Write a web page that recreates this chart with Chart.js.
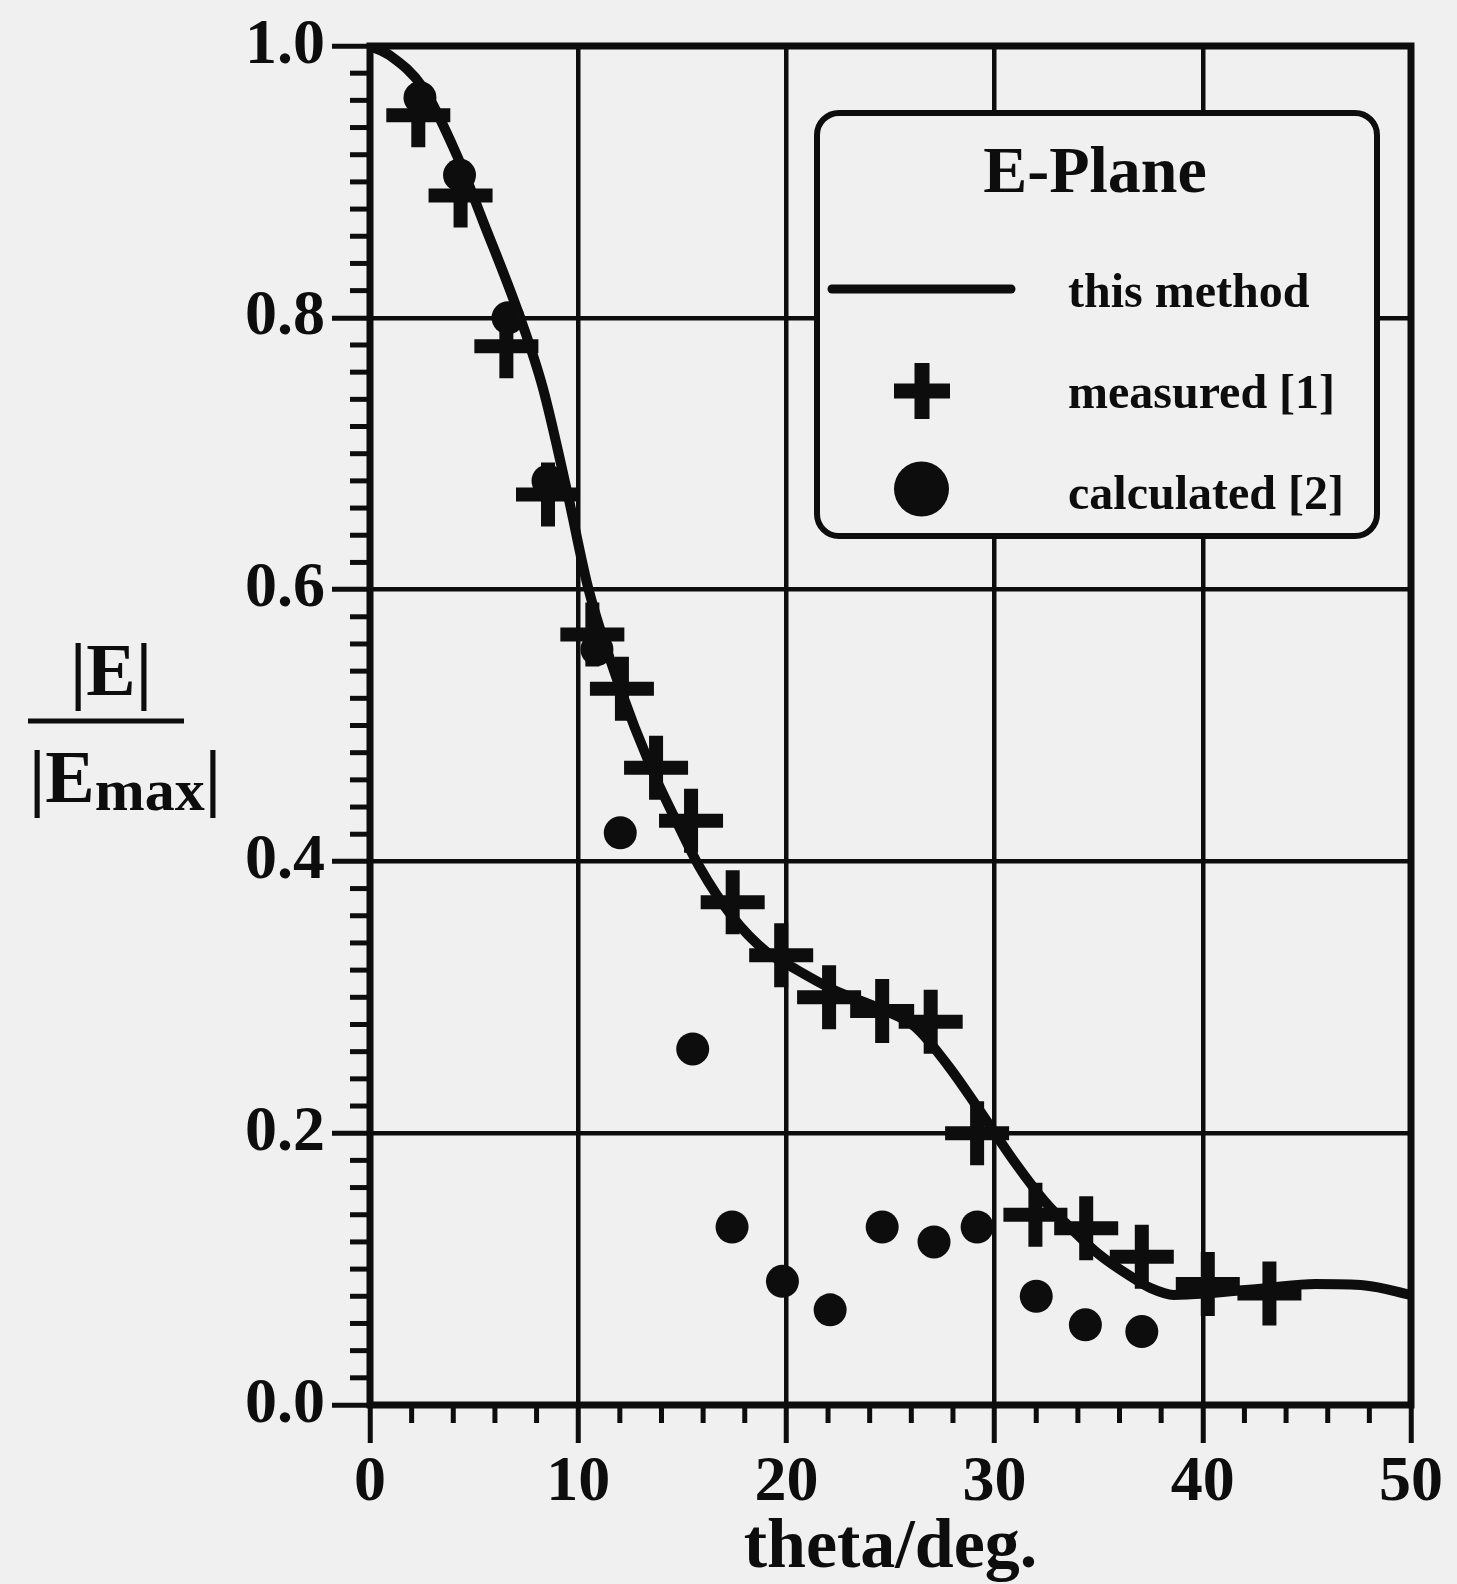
<!DOCTYPE html>
<html>
<head>
<meta charset="utf-8">
<script src="https://cdn.jsdelivr.net/npm/chart.js@4.4.1/dist/chart.umd.min.js"></script>
<style>
  html, body { margin: 0; padding: 0; background: #f0f0f0; }
  #wrap { width: 1457px; height: 1584px; position: relative; }
</style>
</head>
<body>
<div id="wrap"><canvas id="c"></canvas></div>
<script>
// ---- data ----
const curveTheta = [0, 0.96, 2.56, 4.16, 5.43, 7.19, 8.31, 9.5, 10.5, 11.98, 13.5, 14.7, 15.82, 17.42, 19.0, 20.3, 22.2, 24.6, 26.2, 27.8, 29.4, 31.0, 32.4, 33.4, 35.0, 36.6, 37.5, 38.6, 40.1, 43.0, 45.4, 47.8, 50];
const curveE     = [1.000, 0.993, 0.969, 0.920, 0.871, 0.801, 0.748, 0.670, 0.600, 0.529, 0.469, 0.430, 0.396, 0.359, 0.334, 0.322, 0.306, 0.291, 0.278, 0.249, 0.214, 0.178, 0.150, 0.134, 0.111, 0.094, 0.086, 0.081, 0.082, 0.086, 0.089, 0.088, 0.081];

const measuredTheta = [2.32, 4.35, 6.55, 8.55, 10.68, 12.1, 13.74, 15.42, 17.42, 19.75, 22.05, 24.6, 26.93, 29.16, 31.96, 34.4, 37.07, 40.24, 43.2];
const measuredE     = [0.949, 0.890, 0.779, 0.670, 0.567, 0.527, 0.469, 0.430, 0.370, 0.331, 0.300, 0.290, 0.282, 0.200, 0.140, 0.130, 0.109, 0.089, 0.082];

const calcTheta = [2.4, 4.3, 6.63, 8.55, 10.9, 12.02, 15.5, 17.39, 19.81, 22.1, 24.6, 27.09, 29.16, 32.0, 34.36, 37.07];
const calcE     = [0.962, 0.905, 0.800, 0.680, 0.556, 0.421, 0.262, 0.131, 0.091, 0.070, 0.131, 0.120, 0.131, 0.080, 0.059, 0.054];

const xTickLabels = ['0', '10', '20', '30', '40', '50'];
const yTickLabels = ['0.0', '0.2', '0.4', '0.6', '0.8', '1.0'];
const seriesNames = ['this method', 'measured [1]', 'calculated [2]'];
const legendTitle = 'E-Plane';
const xTitle = 'theta/deg.';

// ---- styling ----
const INK = '#0d0d0d';
const SERIF = "'Liberation Serif', 'Times New Roman', serif";

const isMajorX = v => Math.abs(Math.round(v) % 10) === 0 && Math.abs(v - Math.round(v)) < 1e-6;
const isMajorY = v => Math.round(v * 50) % 10 === 0;

const pts = (xs, ys) => xs.map((x, i) => ({ x: x, y: ys[i] }));

const decorPlugin = {
  id: 'decor',
  afterDraw(chart) {
    const ctx = chart.ctx;
    const a = chart.chartArea;
    const xs = chart.scales.x, ys = chart.scales.y;
    ctx.save();
    ctx.strokeStyle = INK;
    ctx.fillStyle = INK;
    ctx.lineCap = 'butt';

    // minor ticks
    ctx.lineWidth = 5;
    ys.ticks.forEach(t => {
      if (isMajorY(t.value)) return;
      const py = ys.getPixelForValue(t.value);
      ctx.beginPath(); ctx.moveTo(a.left - 20, py); ctx.lineTo(a.left, py); ctx.stroke();
    });
    xs.ticks.forEach(t => {
      if (isMajorX(t.value)) return;
      const px = xs.getPixelForValue(t.value);
      ctx.beginPath(); ctx.moveTo(px, a.bottom); ctx.lineTo(px, a.bottom + 18); ctx.stroke();
    });

    // frame
    ctx.lineWidth = 7;
    ctx.strokeRect(a.left, a.top, a.right - a.left, a.bottom - a.top);

    // legend box
    const bx = 817, by = 113, bw = 560, bh = 423, r = 22;
    ctx.beginPath();
    ctx.moveTo(bx + r, by);
    ctx.lineTo(bx + bw - r, by);
    ctx.arcTo(bx + bw, by, bx + bw, by + r, r);
    ctx.lineTo(bx + bw, by + bh - r);
    ctx.arcTo(bx + bw, by + bh, bx + bw - r, by + bh, r);
    ctx.lineTo(bx + r, by + bh);
    ctx.arcTo(bx, by + bh, bx, by + bh - r, r);
    ctx.lineTo(bx, by + r);
    ctx.arcTo(bx, by, bx + r, by, r);
    ctx.closePath();
    ctx.fillStyle = '#f0f0f0';
    ctx.fill();
    ctx.lineWidth = 6;
    ctx.stroke();

    ctx.fillStyle = INK;
    ctx.textBaseline = 'alphabetic';
    ctx.textAlign = 'center';
    ctx.font = 'bold 66px ' + SERIF;
    ctx.fillText(legendTitle, 1095, 192);

    // line sample
    ctx.lineWidth = 9;
    ctx.lineCap = 'round';
    ctx.beginPath(); ctx.moveTo(832, 289); ctx.lineTo(1011, 289); ctx.stroke();
    ctx.lineCap = 'butt';
    // cross sample
    ctx.lineWidth = 15;
    ctx.beginPath();
    ctx.moveTo(922 - 28, 391); ctx.lineTo(922 + 28, 391);
    ctx.moveTo(922, 391 - 28); ctx.lineTo(922, 391 + 28);
    ctx.stroke();
    // circle sample
    ctx.beginPath(); ctx.arc(921.5, 489, 27.5, 0, Math.PI * 2); ctx.fill();

    ctx.textAlign = 'left';
    ctx.font = 'bold 48px ' + SERIF;
    ctx.fillText(seriesNames[0], 1068, 307);
    ctx.fillText(seriesNames[1], 1068, 408);
    ctx.fillText(seriesNames[2], 1068, 509);

    // y-axis title as a fraction |E| / |Emax|
    ctx.font = 'bold 74px ' + SERIF;
    ctx.textAlign = 'center';
    ctx.fillText('|E|', 111, 695);
    ctx.lineWidth = 5;
    ctx.beginPath(); ctx.moveTo(28, 721); ctx.lineTo(184, 721); ctx.stroke();
    ctx.textAlign = 'left';
    let x = 29;
    ctx.font = 'bold 74px ' + SERIF;
    ctx.fillText('|', x, 802); x += ctx.measureText('|').width;
    ctx.fillText('E', x, 802); x += ctx.measureText('E').width;
    ctx.font = 'bold 60px ' + SERIF;
    ctx.fillText('max', x, 810); x += ctx.measureText('max').width;
    ctx.font = 'bold 74px ' + SERIF;
    ctx.fillText('|', x, 802);

    ctx.restore();
  }
};

new Chart(document.getElementById('c'), {
  type: 'scatter',
  data: {
    datasets: [
      {
        label: seriesNames[0],
        data: pts(curveTheta, curveE),
        showLine: true,
        borderColor: INK,
        borderWidth: 10,
        pointRadius: 0,
        cubicInterpolationMode: 'monotone',
        fill: false
      },
      {
        label: seriesNames[1],
        data: pts(measuredTheta, measuredE),
        pointStyle: 'cross',
        pointRadius: 32,
        pointBorderWidth: 14,
        borderColor: INK,
        backgroundColor: INK,
        showLine: false
      },
      {
        label: seriesNames[2],
        data: pts(calcTheta, calcE),
        pointStyle: 'circle',
        pointRadius: 16.5,
        pointBorderWidth: 0,
        borderColor: INK,
        backgroundColor: INK,
        showLine: false
      }
    ]
  },
  options: {
    responsive: true,
    maintainAspectRatio: false,
    animation: false,
    events: [],
    layout: { padding: { top: 45, right: 44, left: 0, bottom: 0 } },
    plugins: { legend: { display: false }, tooltip: { enabled: false }, title: { display: false } },
    scales: {
      x: {
        type: 'linear',
        min: 0, max: 50,
        afterFit(s) { s.height = 179; },
        border: { display: false },
        grid: {
          drawOnChartArea: true,
          color: c => (c.tick && isMajorX(c.tick.value)) ? INK : 'rgba(0,0,0,0)',
          lineWidth: c => (c.tick && isMajorX(c.tick.value)) ? 4.5 : 0,
          tickLength: 38,
          tickWidth: 5,
          tickColor: c => (c.tick && isMajorX(c.tick.value)) ? INK : 'rgba(0,0,0,0)'
        },
        ticks: {
          stepSize: 2,
          autoSkip: false,
          maxRotation: 0,
          padding: 2,
          color: INK,
          font: { family: SERIF, size: 64, weight: 'bold' },
          callback: v => isMajorX(v) ? xTickLabels[Math.round(v / 10)] : ''
        },
        title: {
          display: true,
          text: xTitle,
          color: INK,
          padding: { top: 0, bottom: 0 },
          font: { family: SERIF, size: 70, weight: 'bold', lineHeight: 1 }
        }
      },
      y: {
        type: 'linear',
        min: 0, max: 1,
        afterFit(s) { s.width = 370; },
        border: { display: false },
        grid: {
          drawOnChartArea: true,
          color: c => (c.tick && isMajorY(c.tick.value)) ? INK : 'rgba(0,0,0,0)',
          lineWidth: c => (c.tick && isMajorY(c.tick.value)) ? 4.5 : 0,
          tickLength: 38,
          tickWidth: 5,
          tickColor: c => (c.tick && isMajorY(c.tick.value)) ? INK : 'rgba(0,0,0,0)'
        },
        ticks: {
          stepSize: 0.02,
          autoSkip: false,
          padding: 7,
          color: INK,
          font: { family: SERIF, size: 64, weight: 'bold' },
          callback: v => isMajorY(v) ? yTickLabels[Math.round(v * 5)] : ''
        }
      }
    }
  },
  plugins: [decorPlugin]
});
</script>
</body>
</html>
